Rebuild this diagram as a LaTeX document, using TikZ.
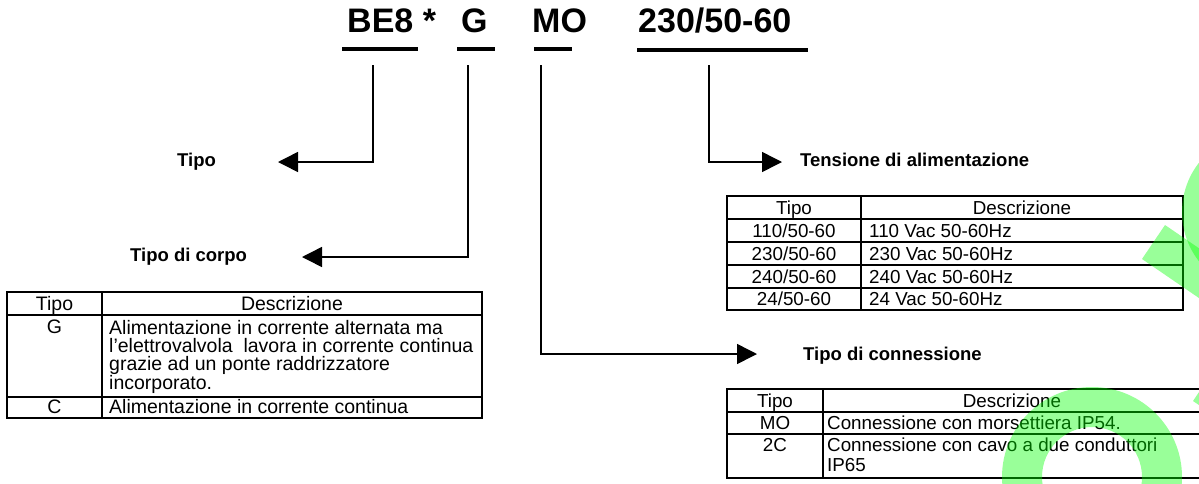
\documentclass[tikz,border=0pt]{standalone}
\usepackage{fontspec}
\setmainfont{Liberation Sans}
\usetikzlibrary{arrows.meta}
\definecolor{wm}{RGB}{0,255,0}
\begin{document}
\begin{tikzpicture}[x=1pt,y=-1pt,
  bar/.style={line width=4.5pt},
  conn/.style={line width=1.5pt,-{Triangle[length=20pt,width=20pt]}},
  tit/.style={font=\fontsize{34}{34}\selectfont\bfseries,inner sep=0pt,anchor=base west},
  lab/.style={font=\fontsize{18.5}{20}\selectfont\bfseries,inner sep=0pt,anchor=base west},
  cell/.style={font=\fontsize{18.8}{18.3}\selectfont,inner sep=0pt,anchor=base},
  celll/.style={font=\fontsize{18.8}{18.3}\selectfont,inner sep=0pt,anchor=base west},
  cella/.style={font=\fontsize{19.5}{18.4}\selectfont,inner sep=0pt,anchor=base},
  cellal/.style={font=\fontsize{19.5}{18.4}\selectfont,inner sep=0pt,anchor=base west},
  cellm/.style={font=\fontsize{19.5}{18.4}\selectfont,inner sep=0pt,anchor=north west,align=left},
  tab/.style={line width=1.6pt},
  wmark/.style={fill=wm,fill opacity=0.4}]

\useasboundingbox (0,0) rectangle (1199,483);
\clip (0,0) rectangle (1199,483);

% title
\node[tit] (be) at (347,32) {BE8 *};
\node[tit] (g) at (461,32) {G};
\node[tit] (mo) at (532,32) {MO};
\node[tit] (vv) at (638,32) {230/50-60};

% underline bars
\draw[bar] (342,49) -- (418,49);
\draw[bar] (457,49) -- (495,49);
\draw[bar] (534,49) -- (572,49);
\draw[bar] (637,50) -- (808,50);

% labels
\node[lab] (ltipo) at (177,166.6) {Tipo};
\node[lab] (lcorpo) at (130,261.6) {Tipo di corpo};
\node[lab] (lten) at (800,166.6) {Tensione di alimentazione};
\node[lab] (lcon) at (803,360.6) {Tipo di connessione};

% connectors
\coordinate (s1) at (373,65); \coordinate (e1) at (278,162);
\coordinate (s2) at (468,65); \coordinate (e2) at (302,257);
\coordinate (s3) at (541,65); \coordinate (e3) at (757,354);
\coordinate (s4) at (709,65); \coordinate (e4) at (782,162);
\draw[conn] (s1) |- (e1);
\draw[conn] (s2) |- (e2);
\draw[conn] (s3) |- (e3);
\draw[conn] (s4) |- (e4);

% table: tipo di corpo
\draw[tab] (7,292) rectangle (482,418);
\draw[tab] (102,292) -- (102,418);
\draw[tab] (7,315) -- (482,315);
\draw[tab] (7,397) -- (482,397);
\node[cella] (a1) at (54.5,310.6) {Tipo};
\node[cella] (a2) at (292,310.6) {Descrizione};
\node[cella] (a3) at (54.5,333.6) {G};
\node[cellm] (a4) at (109,319.8) {Alimentazione in corrente alternata ma\\l’elettrovalvola~ lavora in corrente continua\\grazie ad un ponte raddrizzatore\\incorporato.};
\node[cella] (a5) at (54.5,413.6) {C};
\node[cellal] (a6) at (109,413.6) {Alimentazione in corrente continua};

% table: tensione
\draw[tab] (727,196) rectangle (1183,310);
\draw[tab] (861,196) -- (861,310);
\foreach \yy in {219,242,265,288} \draw[tab] (727,\yy) -- (1183,\yy);
\node[cell] (b1) at (794,214) {Tipo};
\node[cell] (b2) at (1022,214) {Descrizione};
\node[cell] (b3) at (794,237) {110/50-60};
\node[celll] (b4) at (869,237) {110 Vac 50-60Hz};
\node[cell] (b5) at (794,260) {230/50-60};
\node[celll] (b6) at (869,260) {230 Vac 50-60Hz};
\node[cell] (b7) at (794,283) {240/50-60};
\node[celll] (b8) at (869,283) {240 Vac 50-60Hz};
\node[cell] (b9) at (794,305.6) {24/50-60};
\node[celll] (b10) at (869,305.6) {24 Vac 50-60Hz};

% table: connessione
\draw[tab] (727,389) rectangle (1201,478);
\draw[tab] (823,389) -- (823,478);
\draw[tab] (727,412) -- (1201,412);
\draw[tab] (727,434) -- (1201,434);
\node[cell] (c1) at (775,407.6) {Tipo};
\node[cell] (c2) at (1012,407.6) {Descrizione};
\node[cell] (c3) at (775,429.6) {MO};
\node[celll] (c4) at (827,429.6) {Connessione con morsettiera IP54.};
\node[cell] (c5) at (775,451.6) {2C};
\node[celll] (c6) at (827,451.6) {Connessione con cavo a due conduttori};
\node[celll] (c7) at (827,471.6) {IP65};

% green watermark shapes
\fill[wmark,even odd rule] (1092,477) circle (90pt) (1092,477) circle (50pt);
\fill[wmark] (1262,212) circle (80pt);
\fill[wmark] (1142,259) -- (1165,225) -- ++(99,67.8) -- ++(-23,34) -- cycle;
\fill[wmark] (1193,401) -- ++(30,-44.5) -- ++(66,45) -- ++(-30,44.5) -- cycle;
\end{tikzpicture}
\end{document}
